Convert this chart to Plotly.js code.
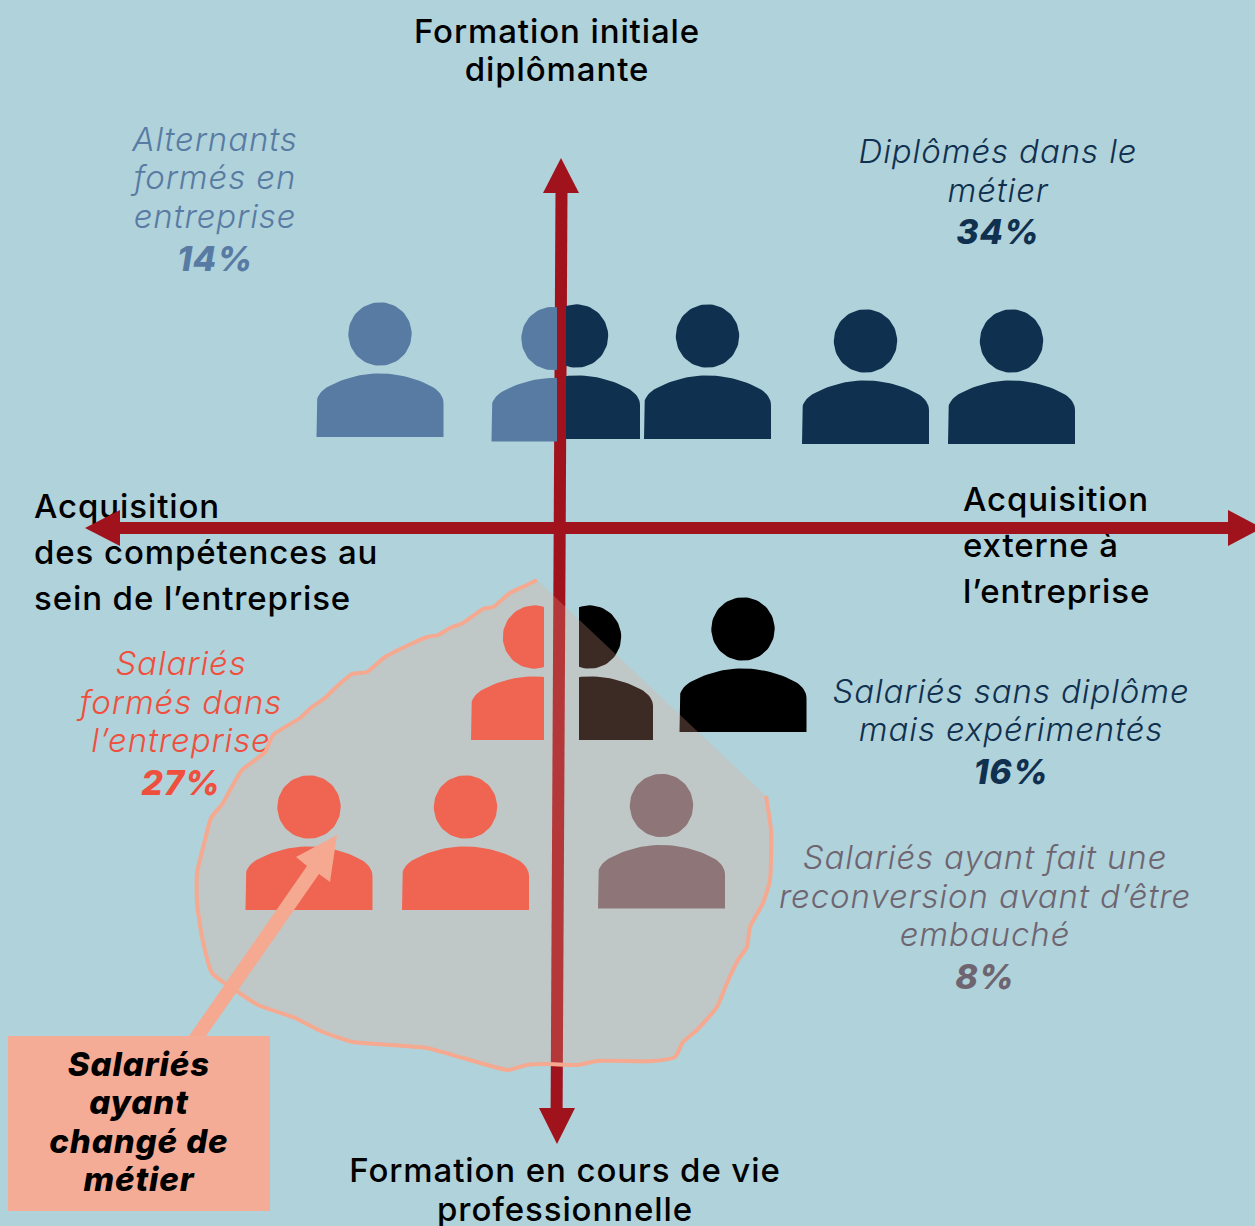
<!DOCTYPE html>
<html lang="fr"><head><meta charset="utf-8">
<script src="https://cdn.plot.ly/plotly-3.0.1.min.js"></script>
<style>html,body{margin:0;padding:0;background:#B0D2DA}#c{width:1255px;height:1226px}
.textpoint text{letter-spacing:.9px}</style>
</head><body><div id="c"></div>
<script>
const FONT = 'Inter, "Open Sans", sans-serif';
// people: head centre x, head centre y, body shift, clip limits
const bluePeople  = {x:[380,553], y:[334,338.5], dx:[0,2], min:[0,0], max:[9999,557]};
const navyPeople  = {x:[576.5,707.5,865.5,1011.5], y:[336,336,341,341], dx:[0,0,0,0], min:[566,0,0,0], max:[9999,9999,9999,9999]};
const coralPeople = {x:[534.5,309,465.5], y:[637,807,807], dx:[0,0,0], min:[0,0,0], max:[544,9999,9999]};
const blackPeople = {x:[589.5,743], y:[637,629], dx:[0,0], min:[579,0], max:[9999,9999]};
const greyPeople  = {x:[661.5], y:[805.5], dx:[0], min:[0], max:[9999]};

// free-hand outline around career changers
const blobX = [537,527,510,493,483,463,450,438,427,413,385,367,352,333,325,312,300,273,265,242,230,223,211,205,197,197,202,212,238,258,295,323,353,393,427,463,508,527,547,578,597,653,675,683,697,717,727,738,747,750,763,770,771,766];
const blobY = [580,585,593,607,609,623,628,635,637,643,657,672,674,690,698,707,718,735,752,770,790,803,818,840,873,903,937,973,992,1005,1018,1032,1042,1045,1048,1058,1070,1065,1064,1065,1061,1061,1057,1042,1030,1007,983,960,947,927,903,880,830,796];

// axes
const vAxisX = [561.5,556.6], vAxisY = [190,1110];
const hAxisX = [118,1230], hAxisY = [528,528];
const headUpX=[543,579,561], headUpY=[193,193,158];
const headDownX=[539,575,557], headDownY=[1108,1108,1144];
const headLeftX=[120,120,85], headLeftY=[510,546,528];
const headRightX=[1228,1228,1262], headRightY=[510,546,528];

// pointer from callout to person
const pointerX=[189,206,319,330,337,296,307];
const pointerY=[1036,1036,874,882,835,857,866];
const calloutX=[8,270,270,8], calloutY=[1036,1036,1211,1211];

// text lines
const titleLines = {t:['Formation initiale','diplômante','Formation en cours de vie','professionnelle'], x:[557,557,565,565], y:[35,73,1174,1213]};
const leftAxisLines = {t:['Acquisition','des compétences au','sein de l’entreprise'], x:[34,34,34], y:[510,556,602]};
const rightAxisLines = {t:['Acquisition','externe à','l’entreprise'], x:[963,963,963], y:[503,549,595]};
const groups = [
 {t:['Alternants','formés en','entreprise'], pct:'14%', x:215, y:[143,181,220], py:262, c:'#587BA4'},
 {t:['Diplômés dans le','métier'], pct:'34%', x:998, y:[155,194], py:235, c:'#10304F'},
 {t:['Salariés','formés dans','l’entreprise'], pct:'27%', x:181, y:[667,706,744], py:786, c:'#EF4F3D'},
 {t:['Salariés sans diplôme','mais expérimentés'], pct:'16%', x:1011, y:[695,733], py:775, c:'#10304F'},
 {t:['Salariés ayant fait une','reconversion avant d’être','embauché'], pct:'8%', x:985, y:[861,900,938], py:980, c:'#6E6571'}
];
const calloutLines = {t:['Salariés','ayant','changé de','métier'], x:139, y:[1068,1106,1145,1183]};

const R=31.7, BW=127, BTOP=39.5, BBOT=103;
// person glyph outline, half width fractions
function bodyOutline(cx,cy){
  const l=cx-BW/2, t=cy+BTOP, b=cy+BBOT, pts=[[l,b],[l,t+30]];
  const bez=(p0,p1,p2,p3,n)=>{for(let i=1;i<=n;i++){const u=i/n,v=1-u;pts.push([v*v*v*p0[0]+3*v*v*u*p1[0]+3*v*u*u*p2[0]+u*u*u*p3[0],v*v*v*p0[1]+3*v*v*u*p1[1]+3*v*u*u*p2[1]+u*u*u*p3[1]]);}};
  bez([l,t+30],[l,t+23],[l+4,t+18],[l+10,t+14],8);
  bez([l+10,t+14],[l+26,t+5],[l+44,t],[cx,t],14);
  const half=pts.slice(1).reverse().slice(1).map(p=>[2*cx-p[0],p[1]]);
  return pts.concat(half,[[cx+BW/2,b]]);
}
function headOutline(cx,cy){const p=[];for(let i=0;i<=72;i++){const a=i/72*2*Math.PI;p.push([cx+R*Math.cos(a),cy+R*Math.sin(a)]);}return p;}
function peopleTrace(g,color){
  const xs=[],ys=[];
  g.x.forEach((cx,i)=>{
    const body=bodyOutline(cx+g.dx[i],g.y[i]).map(p=>[p[0],p[1]]);
    [headOutline(cx,g.y[i]),body].forEach(poly=>{
      poly.forEach(p=>{xs.push(Math.min(g.max[i],Math.max(g.min[i],p[0])));ys.push(p[1]);});
      xs.push(null);ys.push(null);
    });
  });
  return {x:xs,y:ys,mode:'lines',fill:'toself',fillcolor:color,line:{width:0,color:color},hoverinfo:'skip'};
}
const poly=(x,y,c)=>({x:x.concat(x[0]),y:y.concat(y[0]),mode:'lines',fill:'toself',fillcolor:c,line:{width:0,color:c},hoverinfo:'skip'});
const txt=(t,x,y,pos,size,color,weight,style)=>({x:x,y:y,text:t,mode:'text',textposition:pos,hoverinfo:'skip',
  textfont:{family:FONT,size:size,color:color,weight:weight,style:style}});

const RED='#A0121C', PEACH='#F4A990';
const traces=[];
traces.push(txt(titleLines.t,titleLines.x,titleLines.y,'middle center',33,'#000',500,'normal'));
traces.push(txt(leftAxisLines.t,leftAxisLines.x,leftAxisLines.y,'middle right',33,'#000',500,'normal'));
traces.push(txt(rightAxisLines.t,rightAxisLines.x,rightAxisLines.y,'middle right',33,'#000',500,'normal'));
groups.forEach(g=>{
  traces.push(txt(g.t,g.t.map(()=>g.x),g.y,'middle center',33,g.c,300,'italic'));
  traces.push(txt([g.pct],[g.x],[g.py],'middle center',34,g.c,800,'italic'));
});
traces.push({x:vAxisX,y:vAxisY,mode:'lines',line:{color:RED,width:12},hoverinfo:'skip'});
traces.push({x:hAxisX,y:hAxisY,mode:'lines',line:{color:RED,width:12},hoverinfo:'skip'});
traces.push(poly(headUpX,headUpY,RED),poly(headDownX,headDownY,RED),poly(headLeftX,headLeftY,RED),poly(headRightX,headRightY,RED));
traces.push(peopleTrace(bluePeople,'#587BA4'),peopleTrace(navyPeople,'#10304F'),peopleTrace(coralPeople,'#EF4F3D'),peopleTrace(blackPeople,'#000000'),peopleTrace(greyPeople,'#6E6571'));
traces.push({x:blobX.concat(blobX[0]),y:blobY.concat(blobY[0]),mode:'lines',fill:'toself',fillcolor:'rgba(240,168,144,0.25)',line:{width:0,color:'rgba(0,0,0,0)'},hoverinfo:'skip'});
traces.push({x:blobX,y:blobY,mode:'lines',line:{color:PEACH,width:4,shape:'spline',smoothing:0.5},hoverinfo:'skip'});
traces.push(poly(pointerX,pointerY,PEACH),poly(calloutX,calloutY,'#F5AC96'));
traces.push(txt(calloutLines.t,calloutLines.t.map(()=>calloutLines.x),calloutLines.y,'middle center',33,'#000',800,'italic'));

Plotly.newPlot('c',traces,{
  width:1255,height:1226,margin:{l:0,r:0,t:0,b:0,pad:0},showlegend:false,
  paper_bgcolor:'#B0D2DA',plot_bgcolor:'#B0D2DA',
  xaxis:{range:[0,1255],visible:false,fixedrange:true},
  yaxis:{range:[1226,0],visible:false,fixedrange:true}
},{displayModeBar:false,staticPlot:true});
</script></body></html>
